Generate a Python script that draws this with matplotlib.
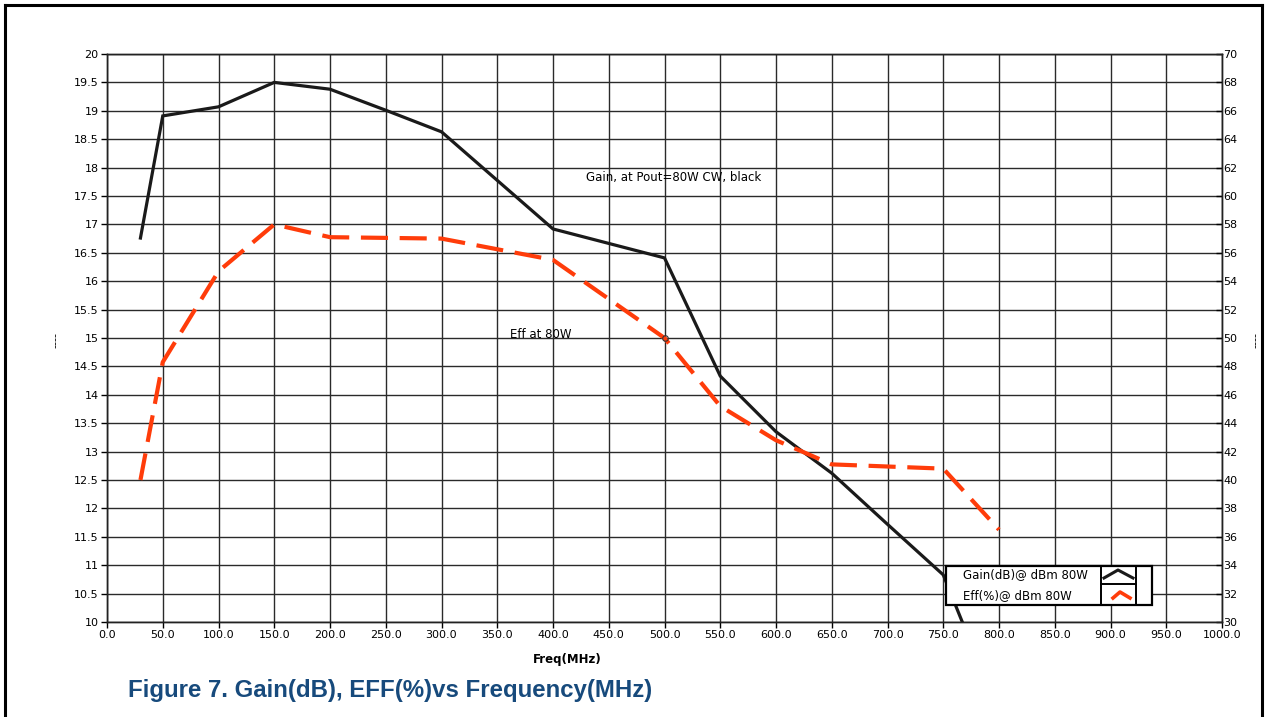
import matplotlib
matplotlib.use('Agg')
import matplotlib.pyplot as plt
from matplotlib.lines import Line2D
from matplotlib.patches import Rectangle

# Gain (dB), left axis
gain_freq = [30, 50, 100, 150, 200, 250, 300, 400, 500, 550, 600, 650, 700, 750, 800]
gain_db = [16.76, 18.91, 19.07, 19.5, 19.38, 19.01, 18.63, 16.92, 16.41, 14.33, 13.35, 12.62, 11.72, 10.83, 8.4]

# Efficiency (%), right axis
eff_freq = [30, 50, 100, 150, 200, 250, 300, 400, 500, 550, 600, 650, 750, 800]
eff_pct = [40.0, 48.3, 54.7, 58.0, 57.1, 57.05, 57.0, 55.5, 50.0, 45.2, 42.8, 41.1, 40.8, 36.5]

x_ticks = [i * 50 for i in range(21)]
left_ticks = [10 + 0.5 * i for i in range(21)]
right_ticks = list(range(30, 72, 2))

W, H = 1266, 717


def fx(px):
    return px / W


def fy(py):
    return 1 - py / H


fig = plt.figure(figsize=(W / 100, H / 100), dpi=100)
ax = fig.add_axes([fx(107), fy(622), (1222 - 107) / W, (622 - 54) / H])
ax2 = ax.twinx()

ax.plot(gain_freq, gain_db, color='#1a1a1a', lw=2.3, zorder=3, solid_joinstyle='miter')
ax2.plot(eff_freq, eff_pct, color='#ff3c0a', lw=3, dashes=[6.5, 2.8], zorder=3)
ax2.plot([500], [50], marker='o', ms=4, mfc='none', mec='#333333', mew=0.8, zorder=4)

ax.set_xlim(0, 1000)
ax.set_ylim(10, 20)
ax2.set_ylim(30, 70)
ax.set_xticks(x_ticks)
ax.set_xticklabels([f'{v:.1f}' for v in x_ticks])
ax.set_yticks(left_ticks)
ax.set_yticklabels([f'{v:g}' for v in left_ticks])
ax2.set_yticks(right_ticks)
ax2.set_yticklabels([str(v) for v in right_ticks])

ax.grid(True, color='#2a2a2a', lw=1.0)
ax.set_axisbelow(True)
for a in (ax, ax2):
    a.tick_params(labelsize=8, length=4, width=1, colors='black', pad=2)
    for s in a.spines.values():
        s.set_color('#222222')
        s.set_linewidth(1.0)
ax2.tick_params(axis='y', direction='in', pad=1)

fig.text(fx(567), fy(660), 'Freq(MHz)', ha='center', va='center', fontsize=8.5, fontweight='bold')
ax.text(430, 17.82, 'Gain, at Pout=80W CW, black', fontsize=8.5, va='center')
ax.text(361, 15.07, 'Eff at 80W', fontsize=8.5, va='center')

# side markers
fig.text(fx(56), fy(340), '----', rotation=90, fontsize=8, ha='center', va='center')
fig.text(fx(1256), fy(340), '----', rotation=90, fontsize=8, ha='center', va='center')

# legend box
fig.patches.append(Rectangle((fx(946), fy(605)), fx(1152) - fx(946), fy(566) - fy(605),
                             transform=fig.transFigure, fc='white', ec='black', lw=1.6, zorder=5))
fig.lines.append(Line2D([fx(1101), fx(1101)], [fy(566), fy(605)], transform=fig.transFigure, color='black', lw=1.4, zorder=6))
fig.lines.append(Line2D([fx(1136), fx(1136)], [fy(566), fy(605)], transform=fig.transFigure, color='black', lw=1.4, zorder=6))
fig.lines.append(Line2D([fx(1101), fx(1136)], [fy(584), fy(584)], transform=fig.transFigure, color='black', lw=1.4, zorder=6))
fig.lines.append(Line2D([fx(1104), fx(1118), fx(1133)], [fy(578), fy(570), fy(578)], transform=fig.transFigure, color='#1a1a1a', lw=2.2, zorder=6))
fig.lines.append(Line2D([fx(1113), fx(1120), fx(1130)], [fy(598), fy(592), fy(598)], transform=fig.transFigure, color='#ff3c0a', lw=2.6, zorder=6))
fig.text(fx(963), fy(575), 'Gain(dB)@ dBm 80W', fontsize=8.5, va='center', zorder=7)
fig.text(fx(963), fy(596), 'Eff(%)@ dBm 80W', fontsize=8.5, va='center', zorder=7)

# title
fig.text(fx(128), fy(690), 'Figure 7. Gain(dB), EFF(%)vs Frequency(MHz)', fontsize=17.3,
         fontweight='bold', color='#174a7c', family='Liberation Sans', va='center')

# outer frame
for xs, ys in [([5, 5], [5, 717]), ([5, 1262], [5, 5]), ([1262, 1262], [5, 717])]:
    fig.lines.append(Line2D([fx(v) for v in xs], [fy(v) for v in ys], transform=fig.transFigure, color='black', lw=2.2))

fig.savefig('out.png', dpi=100)
